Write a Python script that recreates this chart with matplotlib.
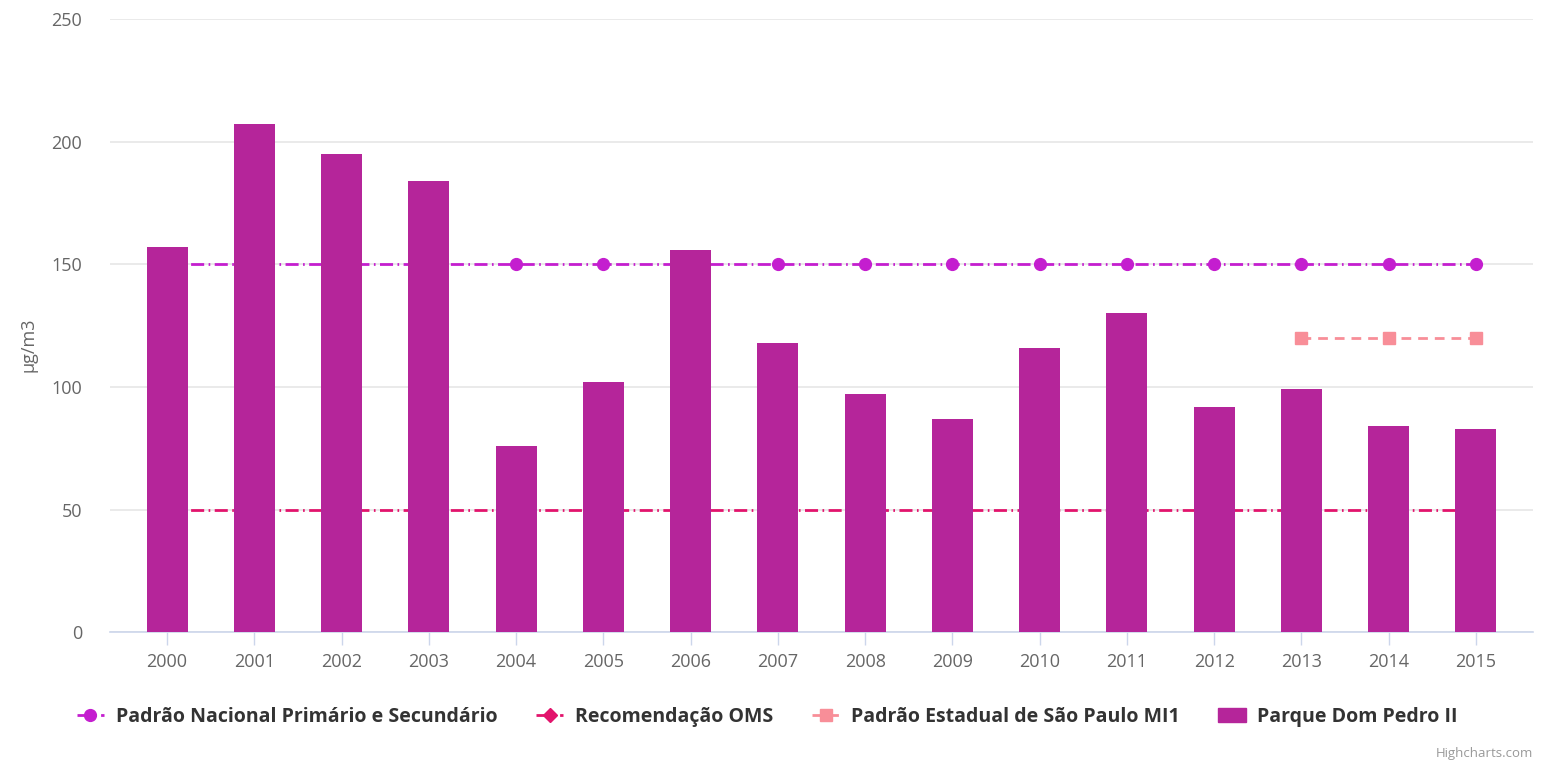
import numpy as np
import matplotlib.pyplot as plt
from matplotlib.lines import Line2D
from matplotlib.patches import Patch

plt.rcParams['font.family'] = ['Open Sans', 'DejaVu Sans']

anos = ['2000', '2001', '2002', '2003', '2004', '2005', '2006', '2007',
        '2008', '2009', '2010', '2011', '2012', '2013', '2014', '2015']
parque_dom_pedro = [157, 207, 195, 184, 76, 102, 156, 118, 97, 87, 116, 130, 92, 99, 84, 83]
padrao_nacional = [150] * 16
recomendacao_oms = [50] * 16
anos_estadual = ['2013', '2014', '2015']
padrao_estadual = [120, 120, 120]

c_bar = '#b5259a'
c_nac = '#c41ecf'
c_oms = '#e2146c'
c_est = '#f88e98'
c_grid = '#e6e6e6'
c_axis = '#ccd6eb'
c_text = '#666666'

dd = (4.7, 1.6, 0.6, 1.6)  # dash-dot

fig = plt.figure(figsize=(15.5, 7.71), dpi=100)
ax = fig.add_axes([0.071, 0.180, 0.918, 0.7954])

x = np.arange(len(anos))
xe = np.array([anos.index(a) for a in anos_estadual])

ax.bar(x, parque_dom_pedro, width=0.47, color=c_bar, zorder=3)
ax.plot(x, padrao_nacional, color=c_nac, lw=2, dashes=dd,
        marker='o', markersize=8.5, zorder=2)
ax.plot(x, recomendacao_oms, color=c_oms, lw=2, dashes=dd,
        marker='D', markersize=0, zorder=2)
ax.plot(xe, padrao_estadual, color=c_est, lw=2, dashes=(3.5, 2.5),
        marker='s', markersize=8.5, zorder=2)

ax.set_xlim(-0.653, 15.653)
ax.set_ylim(0, 250)
ax.set_yticks([0, 50, 100, 150, 200, 250])
ax.set_xticks(x)
ax.set_xticklabels(anos)
ax.yaxis.grid(True, color=c_grid, lw=1.2, zorder=0)
ax.set_axisbelow(True)
for s in ['top', 'right', 'left']:
    ax.spines[s].set_visible(False)
ax.spines['bottom'].set_color(c_axis)
ax.spines['bottom'].set_linewidth(1.2)
ax.tick_params(axis='x', length=9, color=c_axis, width=1, labelsize=13,
               labelcolor=c_text, pad=6)
ax.tick_params(axis='y', length=0, labelsize=13, labelcolor=c_text, pad=20)
ax.set_ylabel('μg/m3', fontsize=13, color=c_text)
ax.yaxis.set_label_coords(-0.051, 0.468)

handles = [
    Line2D([], [], color=c_nac, lw=2, dashes=dd, marker='o', markersize=8.5),
    Line2D([], [], color=c_oms, lw=2, dashes=dd, marker='D', markersize=7),
    Line2D([], [], color=c_est, lw=2, dashes=(3.5, 2.5), marker='s', markersize=8.5),
    Patch(color=c_bar),
]
labels = ['Padrão Nacional Primário e Secundário', 'Recomendação OMS',
          'Padrão Estadual de São Paulo MI1', 'Parque Dom Pedro II']
leg = fig.legend(handles, labels, loc='center', bbox_to_anchor=(0.495, 0.07), ncol=4,
                 frameon=False, handlelength=1.4, columnspacing=2.0, handletextpad=0.6,
                 prop={'weight': 'bold', 'size': 14})
for t in leg.get_texts():
    t.set_color('#333333')

fig.text(0.989, 0.023, 'Highcharts.com', ha='right', va='center', fontsize=9.5, color='#999999')

fig.savefig('out.png', dpi=100)
